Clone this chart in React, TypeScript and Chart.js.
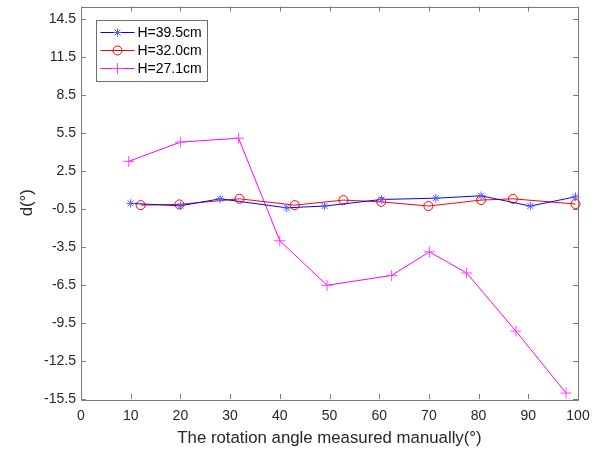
import React, { useEffect, useRef } from "react";
import { Chart, registerables } from "chart.js";

Chart.register(...registerables);

const xTicks = [0, 10, 20, 30, 40, 50, 60, 70, 80, 90, 100];
const yTicks = [-15.5, -12.5, -9.5, -6.5, -3.5, -0.5, 2.5, 5.5, 8.5, 11.5, 14.5];

const seriesNames = ["H=39.5cm", "H=32.0cm", "H=27.1cm"];
const seriesColors = ["#0000FF", "#FF0000", "#FF00FF"];
const markerColors = ["#5a5aff", "#FF0000", "#ff40ff"];
const seriesMarkers = ["star", "circle", "cross"];
const markerSizes = [4.2, 4.5, 5.5];

const blueX = [10, 20, 28, 41.4, 49, 60.5, 71.4, 80.5, 90.4, 99.5];
const blueY = [-0.05, -0.24, 0.31, -0.4, -0.26, 0.26, 0.36, 0.55, -0.26, 0.47];
const redX = [12, 19.8, 31.9, 43, 52.8, 60.4, 69.9, 80.5, 86.9, 99.5];
const redY = [-0.19, -0.13, 0.31, -0.19, 0.21, 0.07, -0.26, 0.21, 0.31, -0.1];
const magX = [9.6, 20, 31.7, 40, 49.5, 62.5, 70.1, 77.6, 87.5, 97.6];
const magY = [3.27, 4.79, 5.1, -3.0, -6.52, -5.74, -3.88, -5.55, -10.14, -15.03];

const FONT = "'Liberation Sans', Arial, Helvetica, sans-serif";
const TEXT = "#262626";
const AXIS = "#7a7a7a";

function pts(xs: number[], ys: number[]) {
  return xs.map((x, i) => ({ x, y: ys[i] }));
}

function drawMarker(ctx: CanvasRenderingContext2D, kind: string, x: number, y: number, r: number, color: string) {
  ctx.save();
  ctx.strokeStyle = color;
  ctx.lineWidth = 1;
  ctx.beginPath();
  if (kind === "circle") {
    ctx.arc(x, y, r, 0, Math.PI * 2);
  } else if (kind === "cross") {
    ctx.moveTo(x - r, y);
    ctx.lineTo(x + r, y);
    ctx.moveTo(x, y - r);
    ctx.lineTo(x, y + r);
  } else {
    const d = r * Math.SQRT1_2;
    ctx.moveTo(x - r, y);
    ctx.lineTo(x + r, y);
    ctx.moveTo(x, y - r);
    ctx.lineTo(x, y + r);
    ctx.moveTo(x - d, y - d);
    ctx.lineTo(x + d, y + d);
    ctx.moveTo(x - d, y + d);
    ctx.lineTo(x + d, y - d);
  }
  ctx.stroke();
  ctx.restore();
}

const framePlugin = {
  id: "frame",
  beforeDatasetsDraw(chart: any) {
    const { ctx, chartArea } = chart;
    const { left, right, top, bottom } = chartArea;
    const xs = chart.scales.x;
    const ys = chart.scales.y;
    ctx.save();
    ctx.strokeStyle = AXIS;
    ctx.lineWidth = 1;
    ctx.beginPath();
    ctx.rect(Math.round(left) + 0.5, Math.round(top) + 0.5, Math.round(right - left), Math.round(bottom - top));
    const tl = 5;
    xTicks.forEach((v) => {
      const px = Math.round(xs.getPixelForValue(v)) + 0.5;
      ctx.moveTo(px, bottom);
      ctx.lineTo(px, bottom - tl);
      ctx.moveTo(px, top);
      ctx.lineTo(px, top + tl);
    });
    yTicks.forEach((v) => {
      const py = Math.round(ys.getPixelForValue(v)) + 0.5;
      ctx.moveTo(left, py);
      ctx.lineTo(left + tl, py);
      ctx.moveTo(right, py);
      ctx.lineTo(right - tl, py);
    });
    ctx.stroke();
    ctx.restore();
  },
  afterDraw(chart: any) {
    const { ctx, chartArea } = chart;
    const bx = Math.round(chartArea.left) + 15.5;
    const by = 20.5;
    const bw = 111;
    const bh = 61;
    ctx.save();
    ctx.fillStyle = "#ffffff";
    ctx.fillRect(bx, by, bw, bh);
    ctx.strokeStyle = "#6e6e6e";
    ctx.lineWidth = 1;
    ctx.strokeRect(bx, by, bw, bh);
    ctx.font = "14px " + FONT;
    ctx.textBaseline = "middle";
    ctx.textAlign = "left";
    seriesNames.forEach((name, i) => {
      const ry = by + 12 + i * 18;
      const x0 = bx + 4;
      const x1 = bx + 38;
      ctx.strokeStyle = seriesColors[i];
      ctx.lineWidth = 1;
      ctx.beginPath();
      ctx.moveTo(x0, ry);
      ctx.lineTo(x1, ry);
      ctx.stroke();
      drawMarker(ctx, seriesMarkers[i], (x0 + x1) / 2, ry, markerSizes[i], markerColors[i]);
      ctx.fillStyle = "#000000";
      ctx.fillText(name, bx + 41, ry + 1);
    });
    ctx.restore();
  },
};

export default function App() {
  const ref = useRef<HTMLCanvasElement | null>(null);

  useEffect(() => {
    document.body.style.margin = "0";
    if (!ref.current) return;
    const data = [pts(blueX, blueY), pts(redX, redY), pts(magX, magY)];
    const chart = new Chart(ref.current, {
      type: "scatter",
      data: {
        datasets: data.map((d, i) => ({
          label: seriesNames[i],
          data: d,
          showLine: true,
          borderColor: seriesColors[i],
          backgroundColor: "rgba(0,0,0,0)",
          borderWidth: 1,
          pointStyle: seriesMarkers[i] as any,
          pointRadius: markerSizes[i],
          pointBorderColor: markerColors[i],
          pointBackgroundColor: "rgba(0,0,0,0)",
          pointBorderWidth: 1,
          tension: 0,
          clip: false as any,
        })),
      },
      options: {
        animation: false,
        responsive: false,
        devicePixelRatio: 1,
        layout: { padding: { left: 0, right: 21, top: 6, bottom: 0 } },
        plugins: {
          legend: { display: false },
          tooltip: { enabled: false },
        },
        scales: {
          x: {
            type: "linear",
            min: 0,
            max: 100,
            afterBuildTicks: (scale: any) => {
              scale.ticks = xTicks.map((v) => ({ value: v }));
            },
            afterFit: (scale: any) => {
              scale.height = 52;
              scale.paddingLeft = 0;
              scale.paddingRight = 0;
            },
            grid: { display: false, drawTicks: false },
            border: { display: false },
            ticks: {
              padding: 9,
              color: TEXT,
              font: { family: FONT, size: 14 },
              maxRotation: 0,
              autoSkip: false,
            },
            title: {
              display: true,
              text: "The rotation angle measured manually(°)",
              color: TEXT,
              font: { family: FONT, size: 16.8 },
              padding: { top: 0, bottom: 3 },
            },
          },
          y: {
            type: "linear",
            min: -15.5,
            max: 15.5,
            afterBuildTicks: (scale: any) => {
              scale.ticks = yTicks.map((v) => ({ value: v }));
            },
            afterFit: (scale: any) => {
              scale.width = 81;
              scale.paddingTop = 0;
              scale.paddingBottom = 0;
            },
            grid: { display: false, drawTicks: false },
            border: { display: false },
            ticks: {
              padding: 5,
              color: TEXT,
              font: { family: FONT, size: 14 },
              autoSkip: false,
              callback: (v: any) => Number(v).toFixed(1),
            },
            title: {
              display: true,
              text: "d(°)",
              color: TEXT,
              font: { family: FONT, size: 16.8 },
              padding: { top: 17, bottom: 0 },
            },
          },
        },
      },
      plugins: [framePlugin],
    });
    return () => chart.destroy();
  }, []);

  return (
    <div style={{ width: 599, height: 451 }}>
      <canvas ref={ref} width={599} height={451} style={{ display: "block" }} />
    </div>
  );
}
